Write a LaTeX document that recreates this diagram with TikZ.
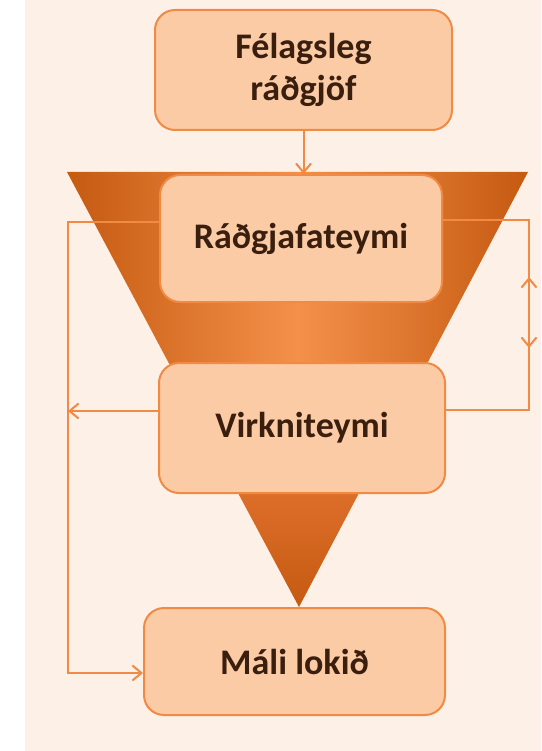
\documentclass[tikz,border=0pt]{standalone}
\usepackage{fontspec}
\setmainfont{Carlito}
\usetikzlibrary{arrows.meta}
\definecolor{cream}{HTML}{FDF1E7}
\definecolor{peach}{HTML}{FBCBA6}
\definecolor{rim}{HTML}{F08A45}
\definecolor{rust}{HTML}{C55A11}
\definecolor{glow}{HTML}{F4904A}
\definecolor{ember}{HTML}{DD6E2A}
\definecolor{ink}{HTML}{3A1E0E}

\begin{document}
\begin{tikzpicture}[x=1pt,y=-1pt,line width=2pt,
    box/.style={draw=rim,fill=peach,rounded corners=20pt,text=ink,align=center,
      inner sep=0pt,font=\fontsize{36}{42}\selectfont\bfseries},
    flow/.style={draw=rim,line width=2pt},
    flowtip/.style={-{Straight Barb[length=9pt,width=15pt]}},
    twotip/.style={{Straight Barb[length=9pt,width=15pt]}-{Straight Barb[length=9pt,width=15pt]}}]

   \useasboundingbox (0,0) rectangle (541,751);
   \fill[white] (0,0) rectangle (541,751);
   \fill[cream] (25,0) rectangle (541,751);

   % funnel
   \shade[left color=rust,right color=rust,middle color=glow] (67,172) -- (528,172) -- (359,493) -- (238,493) -- cycle;
   \shade[top color=ember,bottom color=rust] (238,493) -- (359,493) -- (299,607) -- cycle;

   \path (303.5,70) node[box,minimum width=297pt,minimum height=120pt] (felag) {Félagsleg\\ráðgjöf};
   \path (301,238.5) node[box,minimum width=282pt,minimum height=127pt] (radg) {Ráðgjafateymi};
   \path (302,428) node[box,minimum width=286pt,minimum height=130pt] (virkni) {Virkniteymi};
   \path (294.5,661.5) node[box,minimum width=301pt,minimum height=107pt] (mali) {Máli lokið};

   \coordinate (ltop) at (68,222);
   \coordinate (lmid) at (68,411);
   \coordinate (lbot) at (68,673);
   \coordinate (rtop) at (529,220);
   \coordinate (rup) at (529,277);
   \coordinate (rdown) at (529,348);
   \coordinate (rbot) at (529,410);

   \draw[flow,flowtip] (felag.south) -- (felag.south |- radg.north);
   \draw[flow,flowtip] (radg.west |- ltop) -- (ltop) -- (lbot) -- (mali.west |- lbot);
   \draw[flow,flowtip] (virkni.west |- lmid) -- (lmid);
   \draw[flow] (radg.east |- rtop) -- (rtop) -- (rbot) -- (virkni.east |- rbot);
   \draw[flow,twotip] (rup) -- (rdown);

\end{tikzpicture}
\end{document}
